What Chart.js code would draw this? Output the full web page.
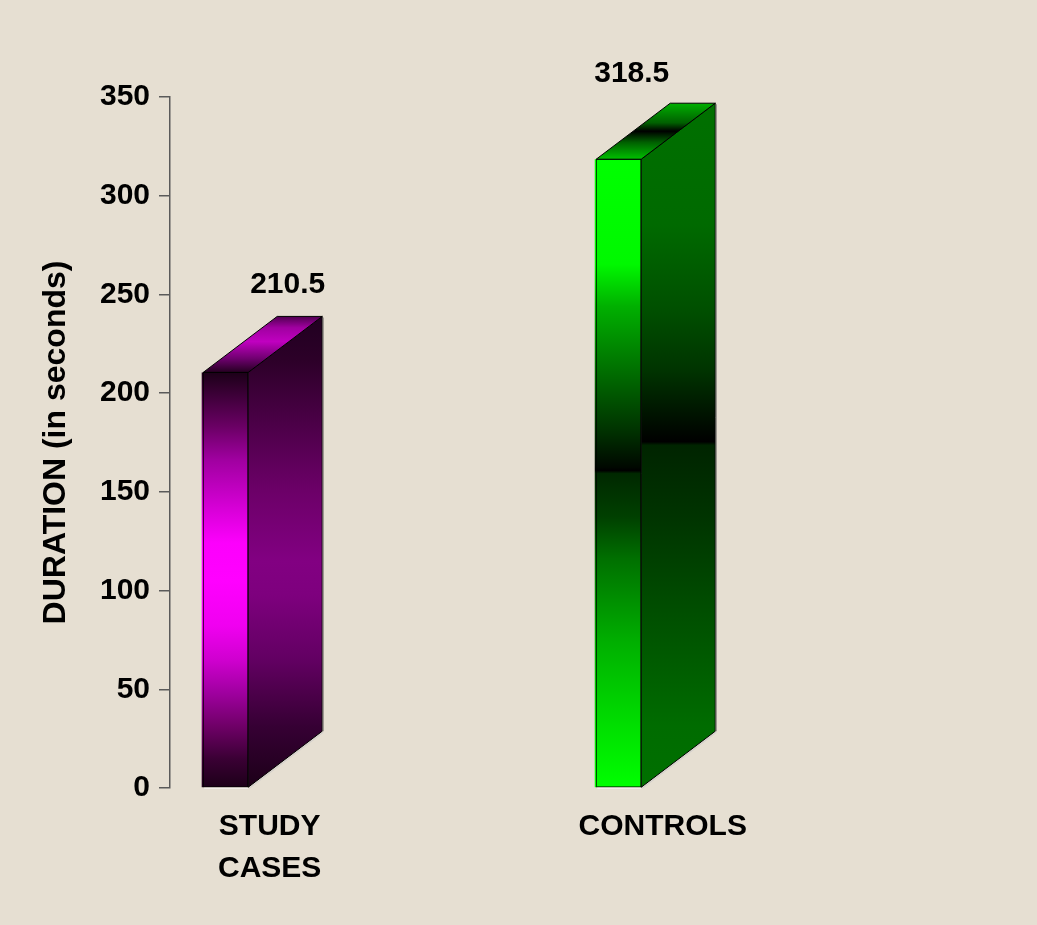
<!DOCTYPE html>
<html>
<head>
<meta charset="utf-8">
<script src="https://cdn.jsdelivr.net/npm/chart.js@4/dist/chart.umd.min.js"></script>
<style>
  html, body { margin: 0; padding: 0; background: #e6dfd2; }
  canvas { display: block; }
</style>
</head>
<body>
<canvas id="chart" width="1037" height="925"></canvas>
<script>
// Categories, their printed (multi-line) labels and durations in seconds
const categories = ['STUDY CASES', 'CONTROLS'];
const categoryLines = [['STUDY', 'CASES'], ['CONTROLS']];
const durations = [210.5, 318.5];
const yTicks = [0, 50, 100, 150, 200, 250, 300, 350];

// Gradient stops for the three visible faces of each box
const palettes = [
  {
    front: [[0, '#1c0018'], [0.13, '#6a0064'], [0.21, '#a000a0'], [0.33, '#d800d8'],
            [0.41, '#fc00fc'], [0.5, '#ff00ff'], [0.61, '#f000f0'], [0.69, '#d000d0'],
            [0.77, '#a000a0'], [0.85, '#700068'], [0.93, '#3a0034'], [1, '#1c0018']],
    side:  [[0, '#200020'], [0.09, '#2c0028'], [0.23, '#4c0048'], [0.37, '#6c0068'],
            [0.52, '#820082'], [0.59, '#7e007e'], [0.73, '#620062'], [0.8, '#4c004a'],
            [0.87, '#360034'], [1, '#1c0018']],
    top:   [[0, '#240020'], [0.25, '#700070'], [0.55, '#c000c0'], [0.8, '#a000a0'], [1, '#500050']]
  },
  {
    front: [[0, '#00ff00'], [0.167, '#00f800'], [0.234, '#00b000'], [0.335, '#007000'],
            [0.435, '#003000'], [0.49, '#000800'], [0.495, '#000000'], [0.5, '#002800'],
            [0.569, '#004000'], [0.636, '#007000'], [0.77, '#00b000'], [0.904, '#00e000'], [1, '#00ff00']],
    side:  [[0, '#007000'], [0.177, '#006a00'], [0.3, '#005000'], [0.39, '#003400'],
            [0.47, '#000c00'], [0.495, '#000000'], [0.5, '#002400'], [0.606, '#003400'],
            [0.73, '#004c00'], [0.91, '#006c00'], [1, '#007000']],
    top:   [[0, '#00c000'], [0.3, '#006000'], [0.5, '#000000'], [0.65, '#006000'], [1, '#00b000']]
  }
];

const depth = { dx: 74, dy: -56 };
// where each value label sits relative to the top of its box
const valueLabelShift = [[62, -79], [13, -77]];

const FONT = "'Liberation Sans', Arial, Helvetica, sans-serif";
Chart.defaults.font.family = FONT;

function vGrad(ctx, y0, y1, stops) {
  const g = ctx.createLinearGradient(0, y0, 0, y1);
  stops.forEach(([o, c]) => g.addColorStop(o, c));
  return g;
}

const boxes3d = {
  id: 'boxes3d',
  beforeDraw(chart) {
    const { ctx, width, height } = chart;
    ctx.save();
    ctx.fillStyle = '#e6dfd2';
    ctx.fillRect(0, 0, width, height);
    ctx.restore();
  },
  afterDatasetsDraw(chart) {
    const ctx = chart.ctx;
    const meta = chart.getDatasetMeta(0);
    const { dx, dy } = depth;
    meta.data.forEach((bar, i) => {
      const { x, y, base, width } = bar.getProps(['x', 'y', 'base', 'width'], true);
      if (![x, y, base, width].every(Number.isFinite)) return;
      const L = x - width / 2, R = x + width / 2, T = y, B = base;
      const pal = palettes[i];
      ctx.save();
      ctx.lineJoin = 'miter';

      // thin coloured sliver left of the front outline
      ctx.fillStyle = vGrad(ctx, T, B, pal.front);
      ctx.fillRect(L - 1.5, T, 1.5, B - T);

      // side face
      ctx.beginPath();
      ctx.moveTo(R, T);
      ctx.lineTo(R + dx, T + dy);
      ctx.lineTo(R + dx, B + dy);
      ctx.lineTo(R, B);
      ctx.closePath();
      ctx.fillStyle = vGrad(ctx, T + dy, B, pal.side);
      ctx.fill();
      ctx.lineWidth = 1;
      ctx.strokeStyle = '#000';
      ctx.stroke();

      // top face
      ctx.beginPath();
      ctx.moveTo(L, T);
      ctx.lineTo(L + dx, T + dy);
      ctx.lineTo(R + dx, T + dy);
      ctx.lineTo(R, T);
      ctx.closePath();
      ctx.fillStyle = vGrad(ctx, T, T + dy, pal.top);
      ctx.fill();
      ctx.stroke();

      // light edges along the bottom and right side
      ctx.lineWidth = 1.2;
      ctx.strokeStyle = '#f6f2f2';
      ctx.beginPath();
      ctx.moveTo(L + 1, B + 1);
      ctx.lineTo(R, B + 1);
      ctx.stroke();
      ctx.strokeStyle = '#d4d0cc';
      ctx.beginPath();
      ctx.moveTo(R + 1, B + 1);
      ctx.lineTo(R + dx + 1, B + dy + 1);
      ctx.stroke();
      ctx.strokeStyle = '#8c8882';
      ctx.beginPath();
      ctx.moveTo(R + dx + 1, T + dy + 1);
      ctx.lineTo(R + dx + 1, B + dy);
      ctx.stroke();

      // value label
      const v = chart.data.datasets[0].data[i].y;
      ctx.fillStyle = '#000';
      ctx.font = 'bold 30px ' + FONT;
      ctx.textAlign = 'center';
      ctx.textBaseline = 'alphabetic';
      ctx.fillText(v.toFixed(1), x + valueLabelShift[i][0], T + valueLabelShift[i][1]);
      ctx.restore();
    });
  }
};

new Chart(document.getElementById('chart'), {
  type: 'bar',
  data: {
    datasets: [{
      label: 'DURATION (in seconds)',
      data: categories.map((c, i) => ({ x: i, y: durations[i] })),
      barThickness: 45,
      borderColor: '#000',
      borderWidth: 1,
      borderSkipped: false,
      backgroundColor: (c) => {
        const chart = c.chart;
        const ys = chart.scales.y;
        if (!ys || c.dataIndex === undefined || !c.parsed) return 'rgba(0,0,0,0)';
        const top = ys.getPixelForValue(c.parsed.y);
        const bottom = ys.getPixelForValue(0);
        if (!Number.isFinite(top) || !Number.isFinite(bottom)) return 'rgba(0,0,0,0)';
        return vGrad(chart.ctx, top, bottom, palettes[c.dataIndex].front);
      }
    }]
  },
  options: {
    responsive: false,
    devicePixelRatio: 1,
    animation: false,
    layout: { padding: { left: 33, top: 97, right: 37, bottom: 37 } },
    plugins: {
      legend: { display: false },
      tooltip: { enabled: false }
    },
    scales: {
      x: {
        type: 'linear',
        offset: false,
        min: -0.1417,
        max: 1.97,
        afterBuildTicks: (s) => { s.ticks = categories.map((c, i) => ({ value: i })); },
        afterFit: (s) => { s.height = 100; },
        grid: { display: false, drawTicks: false },
        border: { display: false },
        ticks: {
          callback: (v, i) => categoryLines[i],
          font: { size: 30, weight: 'bold', lineHeight: 1.4 },
          color: '#000',
          padding: 18,
          labelOffset: 44,
          maxRotation: 0,
          autoSkip: false
        }
      },
      y: {
        min: 0,
        max: 350,
        afterBuildTicks: (s) => { s.ticks = yTicks.map(v => ({ value: v })); },
        afterFit: (s) => { s.width = 137; },
        grid: { drawOnChartArea: false, drawTicks: true, tickLength: 11, color: '#5a5a5a', lineWidth: 1.5 },
        border: { display: true, color: '#5a5a5a', width: 1.5 },
        ticks: { font: { size: 30, weight: 'bold' }, color: '#000', padding: 9 },
        title: {
          display: true,
          text: 'DURATION (in seconds)',
          font: { size: 32, weight: 'bold' },
          color: '#000',
          padding: { top: 4, bottom: 4 }
        }
      }
    }
  },
  plugins: [boxes3d]
});
</script>
</body>
</html>
